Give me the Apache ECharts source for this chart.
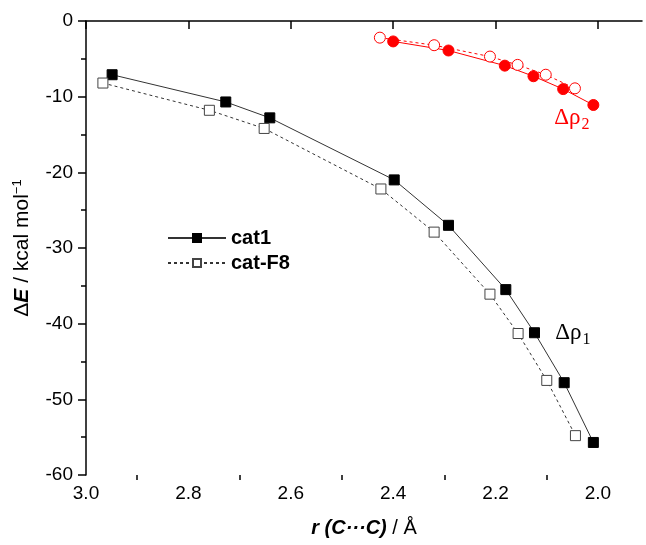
<!DOCTYPE html>
<html>
<head>
<meta charset="utf-8">
<script src="https://cdn.jsdelivr.net/npm/echarts@6/dist/echarts.min.js"></script>
<style>
  html, body { margin: 0; padding: 0; background: #fff; }
  #chart { width: 646px; height: 545px; }
</style>
</head>
<body>
<div id="chart"></div>
<script>
// data
const cat1R = [2.949, 2.727, 2.641, 2.398, 2.292, 2.180, 2.124, 2.066, 2.009]
const cat1E = [-7.1, -10.7, -12.8, -21.0, -27.0, -35.5, -41.2, -47.8, -55.7]
const catF8R = [2.967, 2.759, 2.652, 2.424, 2.320, 2.211, 2.156, 2.100, 2.044]
const catF8E = [-8.2, -11.8, -14.2, -22.2, -27.9, -36.1, -41.3, -47.5, -54.8]
const rho2FilledR = [2.400, 2.292, 2.182, 2.126, 2.068, 2.009]
const rho2FilledE = [-2.7, -3.9, -5.9, -7.3, -9.0, -11.1]
const rho2OpenR = [2.426, 2.320, 2.211, 2.157, 2.102, 2.045]
const rho2OpenE = [-2.2, -3.2, -4.7, -5.8, -7.1, -8.9]
const xMajor = [2.0, 2.2, 2.4, 2.6, 2.8, 3.0]
const xMinor = [2.1, 2.3, 2.5, 2.7, 2.9]

const pairs = (xs, ys) => xs.map((x, i) => [x, ys[i]])

const sans = 'Liberation Sans, Arial, sans-serif'
const serif = 'Liberation Serif, Times New Roman, serif'
const axisLine = { show: true, lineStyle: { color: '#000', width: 1.5 } }

const chart = echarts.init(document.getElementById('chart'))

const option = {
  animation: false,
  grid: { left: 86, right: 4, top: 21, bottom: 70 },
  legend: {
    data: ['cat1', 'cat-F8'],
    orient: 'vertical',
    left: 162,
    top: 223,
    itemWidth: 58,
    itemHeight: 10,
    itemGap: 5,
    textStyle: { fontFamily: sans, fontSize: 20, fontWeight: 'bold', color: '#000', padding: [0, 0, 0, 0] }
  },
  xAxis: [{
    type: 'value',
    inverse: true,
    min: 1.914,
    max: 3.0,
    axisLine: axisLine,
    splitLine: { show: false },
    axisTick: { show: true, customValues: xMajor, length: 8, lineStyle: { color: '#000', width: 1.5 } },
    axisLabel: {
      customValues: xMajor, margin: 9, color: '#000', fontFamily: sans, fontSize: 19,
      formatter: v => v.toFixed(1)
    },
    name: '{b|r (C···C)}{n| / Å}',
    nameLocation: 'middle',
    nameGap: 43,
    nameTextStyle: {
      rich: {
        b: { fontFamily: sans, fontSize: 20, fontWeight: 'bold', fontStyle: 'italic', color: '#000' },
        n: { fontFamily: sans, fontSize: 20, color: '#000' }
      }
    }
  }, {
    type: 'value',
    inverse: true,
    min: 1.914,
    max: 3.0,
    position: 'bottom',
    axisLine: { show: false },
    splitLine: { show: false },
    axisTick: { show: true, customValues: xMinor, length: 5, lineStyle: { color: '#000', width: 1.5 } },
    axisLabel: { show: false }
  }],
  yAxis: {
    type: 'value',
    min: -60,
    max: 0,
    interval: 10,
    axisLine: axisLine,
    splitLine: { show: false },
    axisTick: { show: true, length: 8, lineStyle: { color: '#000', width: 1.5 } },
    minorTick: { show: true, splitNumber: 2, length: 5, lineStyle: { color: '#000', width: 1.5 } },
    minorSplitLine: { show: false },
    axisLabel: { margin: 13, color: '#000', fontFamily: sans, fontSize: 19 },
    name: '{d|Δ}{b|E}{n| / kcal mol}{s|−1}',
    nameLocation: 'middle',
    nameGap: 52,
    nameTextStyle: {
      rich: {
        d: { fontFamily: sans, fontSize: 21, color: '#000' },
        b: { fontFamily: sans, fontSize: 21, fontWeight: 'bold', fontStyle: 'italic', color: '#000' },
        n: { fontFamily: sans, fontSize: 21, color: '#000' },
        s: { fontFamily: sans, fontSize: 13, color: '#000', padding: [0, 0, 10, 0] }
      }
    }
  },
  series: [
    {
      name: 'cat1', type: 'line', data: pairs(cat1R, cat1E),
      symbol: 'rect', symbolSize: 10,
      itemStyle: { color: '#000', borderColor: '#000', borderWidth: 1 },
      lineStyle: { color: '#333', width: 1 },
      markPoint: {
        symbol: 'rect', symbolSize: 1, itemStyle: { color: 'transparent' },
        label: {
          show: true, position: 'inside', formatter: '{g|Δρ}{s|1}',
          rich: {
            g: { fontFamily: serif, fontSize: 23, color: '#000' },
            s: { fontFamily: serif, fontSize: 16, color: '#000', padding: [14, 0, 0, 1] }
          }
        },
        data: [{ coord: [2.049, -41.2] }]
      }
    },
    {
      name: 'cat-F8', type: 'line', data: pairs(catF8R, catF8E),
      symbol: 'rect', symbolSize: 10,
      itemStyle: { color: '#fff', borderColor: '#444', borderWidth: 1 },
      lineStyle: { color: '#333', width: 1, type: [3, 3] }
    },
    {
      name: 'rho2 filled', type: 'line', data: pairs(rho2FilledR, rho2FilledE),
      symbol: 'circle', symbolSize: 11,
      itemStyle: { color: '#ff0000', borderColor: '#ff0000', borderWidth: 1 },
      lineStyle: { color: '#ff0000', width: 1 },
      markPoint: {
        symbol: 'rect', symbolSize: 1, itemStyle: { color: 'transparent' },
        label: {
          show: true, position: 'inside', formatter: '{g|Δρ}{s|2}',
          rich: {
            g: { fontFamily: serif, fontSize: 23, color: '#ff0000' },
            s: { fontFamily: serif, fontSize: 16, color: '#ff0000', padding: [14, 0, 0, 1] }
          }
        },
        data: [{ coord: [2.051, -12.8] }]
      }
    },
    {
      name: 'rho2 open', type: 'line', data: pairs(rho2OpenR, rho2OpenE),
      symbol: 'circle', symbolSize: 11,
      itemStyle: { color: '#fff', borderColor: '#ff0000', borderWidth: 1 },
      lineStyle: { color: '#ff0000', width: 1, type: [3, 3] }
    }
  ]
}
chart.setOption(option)
</script>
</body>
</html>
